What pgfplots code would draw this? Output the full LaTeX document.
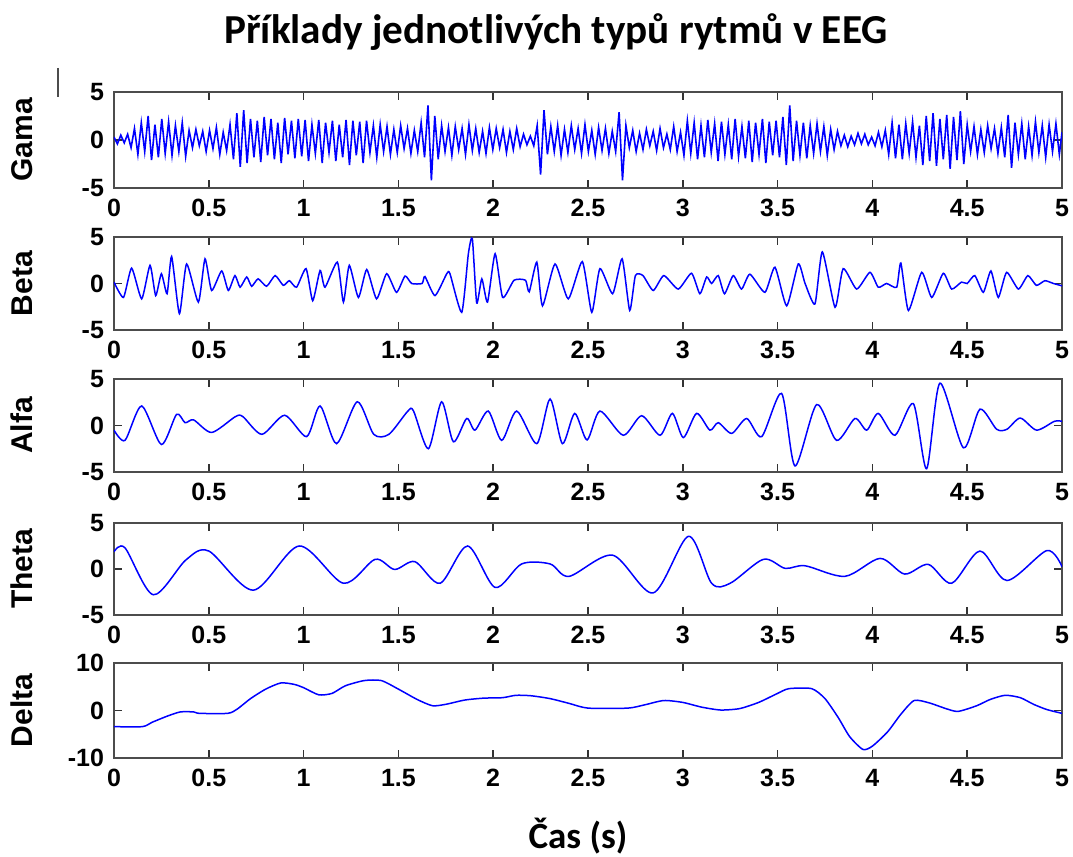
\documentclass[border=0pt]{standalone}
\usepackage{pgfplots}
\pgfplotsset{compat=1.18}
\usepackage{fontspec}
\setmainfont{Liberation Sans}
\newfontfamily\calibri{Carlito}
\definecolor{mblue}{RGB}{0,0,255}
\pgfplotsset{eeg/.style={
  scale only axis, width=474pt, anchor=north west,
  xmin=0, xmax=5,
  xtick={0,0.5,1,1.5,2,2.5,3,3.5,4,4.5,5},
  xticklabels={0,0.5,1,1.5,2,2.5,3,3.5,4,4.5,5},
  tick align=inside, major tick length=4pt,
  axis line style={draw=black!70, line width=0.6pt},
  every tick/.style={black!80, line width=0.8pt},
  tick label style={font=\bfseries\fontsize{12.5}{12.5}\selectfont},
  xticklabel shift=2pt, yticklabel shift=1.5pt,
  ylabel style={at={(rel axis cs:-0.097,0.5)}, anchor=center, font=\bfseries\fontsize{15}{15}\selectfont},
  every axis plot/.append style={mblue, line width=0.75pt, no marks},
}}
\begin{document}
\begin{tikzpicture}
\useasboundingbox (0,0) rectangle (536.5pt,428.5pt);
\node[font=\calibri\bfseries\fontsize{20.6}{20.6}\selectfont, anchor=base] at (278pt,406.5pt) {Příklady jednotlivých typů rytmů v EEG};
\node[font=\calibri\bfseries\fontsize{18.5}{18.5}\selectfont, anchor=base] at (289pt,4pt) {Čas (s)};
\draw[black!70, line width=0.6pt] (29pt,394.5pt) -- (29pt,380pt);

% Gama
\begin{axis}[eeg, at={(57pt,382.5pt)}, height=48pt, ymin=-5, ymax=5, ytick={-5,0,5}, yticklabels={-5,0,5}, ylabel={Gama}]
\addplot[mblue, line width=0.8pt] coordinates {
(0,0.3) (0.018,-0.4) (0.036,0.5) (0.054,-0.3) (0.072,0.6) (0.09,-0.8)
(0.108,1.2) (0.126,-1.5) (0.144,1.8) (0.162,-1.2) (0.18,2.5) (0.198,-2.1)
(0.216,1.6) (0.234,-1.8) (0.252,2.2) (0.27,-1.4) (0.288,1.9) (0.306,-1.6) (0.324,1.5) (0.342,-1.2) (0.36,1.8) (0.378,-1.7) (0.396,1.0)
(0.414,-0.8) (0.432,1.1) (0.45,-0.6) (0.468,0.9) (0.486,-1.2) (0.504,1.0) (0.522,-0.9) (0.54,1.3) (0.558,-1.5) (0.576,0.8) (0.594,-1.1)
(0.612,1.6) (0.63,-2.0) (0.648,2.8) (0.666,-2.8) (0.684,3.1) (0.702,-2.4)
(0.72,2.2) (0.738,-1.8) (0.756,2.0) (0.774,-2.3) (0.792,2.4) (0.81,-1.6) (0.828,2.2) (0.846,-2.0) (0.864,1.8) (0.882,-2.4) (0.9,2.3) (0.918,-1.5) (0.936,2.0) (0.954,-1.9) (0.972,2.2) (0.99,-1.7)
(1.008,2.1) (1.026,-2.2) (1.044,1.6) (1.062,-1.4) (1.08,2.1) (1.098,-2.4) (1.116,1.8) (1.134,-1.3) (1.152,2.0) (1.17,-2.2) (1.188,1.6)
(1.206,-1.8) (1.224,2.1) (1.242,-2.6) (1.26,2.0) (1.278,-1.6) (1.296,1.9) (1.314,-2.4) (1.332,2.0) (1.35,-1.3) (1.368,1.5) (1.386,-1.8)
(1.404,1.6) (1.422,-1.2) (1.44,1.4) (1.458,-1.5) (1.476,1.1) (1.494,-1.3) (1.512,1.5) (1.53,-0.9) (1.548,1.2) (1.566,-1.4) (1.584,1.0) (1.602,-1.2)
(1.62,1.8) (1.638,-1.8) (1.656,3.6) (1.674,-4.2) (1.692,2.5) (1.71,-2.0)
(1.728,1.5) (1.746,-1.2) (1.764,1.3) (1.782,-1.6) (1.8,1.4) (1.818,-1.0) (1.836,1.2) (1.854,-1.5) (1.872,1.6) (1.89,-1.1) (1.908,1.2) (1.926,-1.3) (1.944,0.9) (1.962,-1.4) (1.98,1.3)
(1.998,-1.0) (2.016,1.2) (2.034,-0.8) (2.052,1.1) (2.07,-1.3) (2.088,0.9) (2.106,-1.0) (2.124,1.2) (2.142,-0.7) (2.16,0.6) (2.178,-0.5) (2.196,0.4) (2.214,-0.6)
(2.232,1.5) (2.25,-3.6) (2.268,3.1) (2.286,-1.5)
(2.304,1.4) (2.322,-1.2) (2.34,1.5) (2.358,-1.6) (2.376,1.1) (2.394,-1.3) (2.412,1.5) (2.43,-1.0) (2.448,1.2) (2.466,-1.4) (2.484,1.6) (2.502,-1.2) (2.52,1.0) (2.538,-1.5) (2.556,1.3) (2.574,-1.1) (2.592,1.2) (2.61,-1.4) (2.628,0.9)
(2.646,-1.2) (2.664,2.9) (2.682,-4.2) (2.7,1.5)
(2.718,-0.8) (2.736,1.0) (2.754,-1.2) (2.772,0.7) (2.79,-1.0) (2.808,1.1) (2.826,-0.6) (2.844,0.9) (2.862,-1.1) (2.88,1.2) (2.898,-0.8) (2.916,0.6) (2.934,-1.0) (2.952,1.4) (2.97,-1.2) (2.988,0.8)
(3.006,-1.6) (3.024,2.0) (3.042,-1.4) (3.06,1.8) (3.078,-2.0) (3.096,1.5) (3.114,-1.8) (3.132,2.1) (3.15,-1.3) (3.168,1.7) (3.186,-2.2) (3.204,1.9) (3.222,-1.5) (3.24,1.6) (3.258,-2.0) (3.276,2.2) (3.294,-1.7) (3.312,1.4) (3.33,-1.9) (3.348,2.0) (3.366,-2.3) (3.384,1.8) (3.402,-1.5) (3.42,2.2) (3.438,-2.4) (3.456,1.9) (3.474,-1.6) (3.492,2.0)
(3.51,-1.8) (3.528,2.4) (3.546,-2.6) (3.564,3.6) (3.582,-2.2)
(3.6,2.0) (3.618,-1.6) (3.636,1.8) (3.654,-1.9) (3.672,1.5) (3.69,-1.4) (3.708,1.7) (3.726,-1.2) (3.744,1.4) (3.762,-1.6) (3.78,1.1) (3.798,-1.0) (3.816,0.9)
(3.834,-0.6) (3.852,0.5) (3.87,-0.7) (3.888,0.4) (3.906,-0.5) (3.924,0.7) (3.942,-0.4) (3.96,0.6) (3.978,-0.5) (3.996,0.3) (4.014,-0.6) (4.032,0.8) (4.05,-0.7) (4.068,1.0)
(4.086,-1.5) (4.104,1.8) (4.122,-1.9) (4.14,1.6) (4.158,-2.0) (4.176,1.7) (4.194,-1.4) (4.212,1.9) (4.23,-1.8) (4.248,1.5)
(4.266,-2.6) (4.284,2.5) (4.302,-2.2) (4.32,2.8) (4.338,-2.7) (4.356,2.2) (4.374,-2.0) (4.392,2.6) (4.41,-3.0) (4.428,2.4) (4.446,-2.1) (4.464,3.0) (4.482,-2.5)
(4.5,1.6) (4.518,-1.2) (4.536,1.4) (4.554,-1.5) (4.572,1.1) (4.59,-1.3) (4.608,1.5) (4.626,-0.9) (4.644,1.2) (4.662,-1.4) (4.68,1.3)
(4.698,-1.8) (4.716,2.6) (4.734,-2.9) (4.752,1.8)
(4.77,-1.5) (4.788,1.7) (4.806,-2.0) (4.824,1.4) (4.842,-1.6) (4.86,1.9) (4.878,-1.3) (4.896,1.5) (4.914,-1.8) (4.932,1.6) (4.95,-1.2) (4.968,1.7) (4.986,-1.5) (5.0,0.8)
};
\end{axis}

% Beta
\begin{axis}[eeg, at={(57pt,310pt)}, height=46.5pt, ymin=-5, ymax=5, ytick={-5,0,5}, yticklabels={-5,0,5}, ylabel={Beta}]
\addplot[mblue, line width=0.75pt, smooth, tension=0.35] coordinates {
(0,0.15) (0.05,-1.5) (0.093,1.65) (0.146,-1.65) (0.19,1.95) (0.22,-1.3) (0.25,1.05) (0.28,-1.1) (0.304,2.9) (0.345,-3.25) (0.383,2.1) (0.445,-2.0) (0.48,2.65) (0.515,-0.75) (0.568,1.35) (0.603,-0.75) (0.638,0.85) (0.665,-0.4) (0.70,0.7) (0.726,-0.3) (0.76,0.5) (0.805,-0.3) (0.85,0.85) (0.893,-0.2) (0.925,0.3) (0.963,-0.4) (1.013,1.6) (1.048,-1.85) (1.087,1.4) (1.113,-0.4) (1.178,2.3) (1.21,-2.0) (1.241,1.95) (1.289,-1.5) (1.333,1.5) (1.385,-1.65) (1.438,1.05) (1.49,-0.95) (1.535,0.8) (1.57,0) (1.625,0) (1.64,0.75) (1.693,-1.3) (1.755,1.05) (1.772,1.05) (1.834,-3.1) (1.869,3.2) (1.89,4.8) (1.913,-2.1) (1.94,0.5) (1.97,-2.0) (2.01,3.2) (2.05,-1.5) (2.11,0.35) (2.17,0.35) (2.19,-0.9) (2.23,2.3) (2.26,-2.4) (2.326,2.1) (2.396,-1.65) (2.47,2.35) (2.52,-3.1) (2.563,1.6) (2.63,-1.1) (2.68,2.65) (2.72,-2.9) (2.75,0.85) (2.79,0.85) (2.844,-0.75) (2.9,0.85) (2.976,-0.6) (3.046,1.1) (3.09,-1.1) (3.126,0.7) (3.152,0) (3.187,0.85) (3.22,-1.1) (3.266,0.85) (3.31,-0.6) (3.354,1.0) (3.433,-0.95) (3.486,1.75) (3.548,-2.4) (3.609,2.1) (3.645,0) (3.697,-2.2) (3.736,3.4) (3.803,-2.55) (3.846,1.6) (3.917,-0.6) (3.987,1.2) (4.031,-0.4) (4.075,0) (4.128,-0.4) (4.15,2.2) (4.19,-2.9) (4.26,1.2) (4.313,-1.5) (4.374,1.1) (4.418,-0.6) (4.47,0.15) (4.5,0) (4.54,0.85) (4.585,-0.95) (4.625,1.35) (4.664,-1.5) (4.708,1.2) (4.77,-0.6) (4.82,0.85) (4.865,-0.2) (4.91,0.3) (4.955,0.0) (5.0,-0.25)
};
\end{axis}

% Alfa
\begin{axis}[eeg, at={(57pt,239pt)}, height=46.5pt, ymin=-5, ymax=5, ytick={-5,0,5}, yticklabels={-5,0,5}, ylabel={Alfa}]
\addplot[mblue, line width=0.75pt, smooth, tension=0.45] coordinates {
(0,-0.5) (0.058,-1.6) (0.146,2.1) (0.25,-2.05) (0.33,1.2) (0.375,0.3) (0.42,0.6) (0.515,-0.75) (0.64,0.95) (0.68,0.95) (0.78,-0.95) (0.90,1.1) (1.016,-1.2) (1.087,2.1) (1.174,-1.95) (1.283,2.55) (1.37,-0.95) (1.45,-0.95) (1.55,1.55) (1.58,1.55) (1.658,-2.5) (1.728,2.55) (1.79,-1.75) (1.86,0.75) (1.904,-0.5) (1.974,1.55) (2.045,-1.6) (2.124,1.55) (2.23,-1.95) (2.30,2.85) (2.365,-1.95) (2.43,1.3) (2.495,-1.55) (2.563,1.55) (2.686,-1.05) (2.783,1.05) (2.88,-1.05) (2.945,1.3) (3.003,-1.3) (3.073,1.3) (3.143,-0.5) (3.187,0.3) (3.258,-0.85) (3.337,0.75) (3.416,-1.2) (3.521,3.45) (3.592,-4.35) (3.706,2.25) (3.811,-1.6) (3.908,0.75) (3.97,-0.5) (4.031,1.3) (4.119,-1.05) (4.216,2.35) (4.286,-4.65) (4.356,4.55) (4.48,-2.4) (4.567,1.75) (4.655,-0.4) (4.71,-0.4) (4.78,0.8) (4.866,-0.5) (4.96,0.45) (5.0,0.45)
};
\end{axis}

% Theta
\begin{axis}[eeg, at={(57pt,167pt)}, height=46pt, ymin=-5, ymax=5, ytick={-5,0,5}, yticklabels={-5,0,5}, ylabel={Theta}]
\addplot[mblue, line width=0.75pt, smooth, tension=0.5] coordinates {
(0,1.87) (0.058,2.3) (0.207,-2.8) (0.38,1.0) (0.50,1.95) (0.735,-2.3) (0.977,2.5) (1.21,-1.55) (1.377,1.05) (1.48,-0.05) (1.587,0.8) (1.72,-1.55) (1.865,2.5) (2.01,-2.0) (2.15,0.55) (2.30,0.55) (2.40,-0.8) (2.63,1.5) (2.844,-2.6) (3.03,3.55) (3.152,-1.55) (3.25,-1.55) (3.425,1.05) (3.54,0.07) (3.645,0.35) (3.855,-0.8) (4.04,1.15) (4.17,-0.55) (4.295,0.5) (4.418,-1.55) (4.567,1.95) (4.71,-1.25) (4.92,2.0) (5.0,0.25)
};
\end{axis}

% Delta
\begin{axis}[eeg, at={(57pt,97pt)}, height=47.5pt, ymin=-10, ymax=10, ytick={-10,0,10}, yticklabels={-10,0,10}, ylabel={Delta}]
\addplot[mblue, line width=0.75pt, smooth, tension=0.4] coordinates {
(0,-3.4) (0.15,-3.4) (0.2,-2.5) (0.28,-1.2) (0.35,-0.3) (0.42,-0.3) (0.45,-0.6) (0.6,-0.6) (0.65,0.3) (0.72,2.5) (0.8,4.5) (0.88,5.8) (0.95,5.5) (1.0,4.8) (1.08,3.3) (1.15,3.6) (1.22,5.2) (1.32,6.3) (1.41,6.3) (1.5,4.5) (1.6,2.3) (1.68,1.0) (1.75,1.3) (1.85,2.2) (1.95,2.6) (2.05,2.7) (2.12,3.2) (2.2,3.1) (2.3,2.5) (2.4,1.5) (2.5,0.5) (2.71,0.5) (2.8,1.2) (2.9,2.1) (3.0,1.7) (3.1,0.7) (3.2,0.1) (3.3,0.4) (3.4,1.7) (3.5,3.6) (3.56,4.6) (3.68,4.6) (3.75,2.5) (3.82,-1.5) (3.88,-5.5) (3.95,-8.2) (4.0,-7.5) (4.08,-4.5) (4.15,-0.8) (4.22,2.1) (4.3,1.6) (4.38,0.5) (4.45,-0.2) (4.55,1.0) (4.62,2.3) (4.7,3.2) (4.78,2.7) (4.85,1.3) (4.92,0.2) (5.0,-0.6)
};
\end{axis}
\end{tikzpicture}
\end{document}
